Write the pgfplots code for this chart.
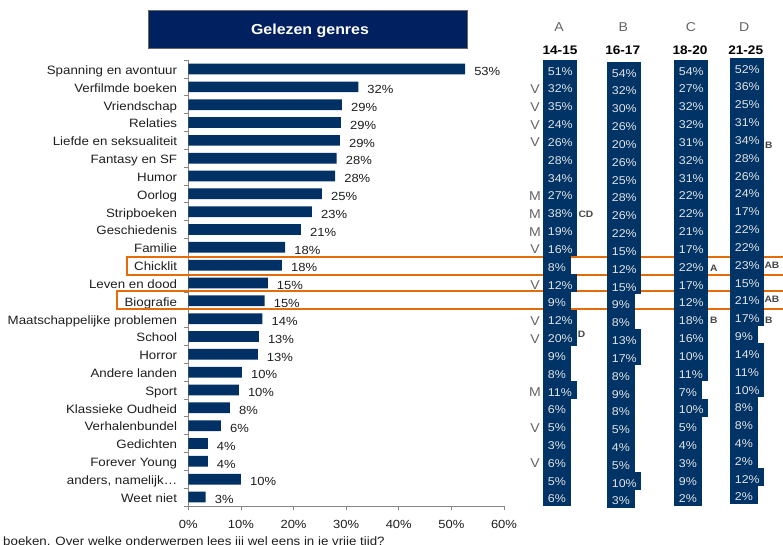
\documentclass[border=0pt]{standalone}
\usepackage{pgfplots}
\pgfplotsset{compat=1.18}
\usepackage{pgfplotstable}
\usepackage{fontspec}
\setmainfont{Liberation Sans}[FakeStretch=1.1]

\definecolor{barblue}{RGB}{0,48,100}
\definecolor{cellblue}{RGB}{0,51,102}
\definecolor{titleblue}{RGB}{0,32,96}
\definecolor{hl}{RGB}{228,108,10}
\definecolor{axgray}{RGB}{134,134,134}
\definecolor{txt}{RGB}{30,30,30}
\definecolor{celltxt}{RGB}{228,228,228}
\definecolor{lettergray}{RGB}{100,100,100}
\definecolor{supgray}{RGB}{70,70,70}

\pgfplotstableread{
y v l
0 52.6 53
1 32.3 32
2 29.2 29
3 29.0 29
4 28.8 29
5 28.2 28
6 27.9 28
7 25.4 25
8 23.5 23
9 21.4 21
10 18.4 18
11 17.8 18
12 15.1 15
13 14.5 15
14 14.1 14
15 13.4 13
16 13.2 13
17 10.2 10
18 9.6 10
19 7.9 8
20 6.2 6
21 3.7 4
22 3.7 4
23 10.0 10
24 3.3 3
}\bars

\pgfplotstableread{
y A B C D
0 51 54 54 52
1 32 32 27 36
2 35 30 32 25
3 24 26 32 31
4 26 20 31 34
5 28 26 32 28
6 34 25 31 26
7 27 28 22 24
8 38 26 22 17
9 19 22 21 22
10 16 15 17 22
11 8 12 22 23
12 12 15 17 15
13 9 9 12 21
14 12 8 18 17
15 20 13 16 9
16 9 17 10 14
17 8 8 11 11
18 11 9 7 10
19 6 8 10 8
20 5 5 5 8
21 3 4 4 4
22 6 5 3 2
23 5 10 9 12
24 6 3 2 2
}\tab

\pgfplotstableread{
y t
1 V
2 V
3 V
4 V
7 M
8 M
9 M
10 V
12 V
14 V
15 V
18 M
20 V
22 V
}\vm

\pgfplotstableread{
x y t
578.3 8.15 CD
577.7 14.89 D
710 11.15 A
710 14.08 B
765 4.28 B
764.3 11.0 AB
764.3 12.92 AB
765 14.1 B
}\sup

\tikzset{
  cell/.style={anchor=west, fill=cellblue, text=celltxt, inner xsep=4.7pt, inner ysep=0pt,
    minimum height=18.1pt, text height=12pt, text depth=0pt,
    font=\fontsize{11.3}{13}\selectfont},
  vmstyle/.style={anchor=center, inner sep=0pt, text=lettergray, text height=9.2pt, text depth=0pt,
    yshift=-2pt, font=\fontsize{12.8}{14}\selectfont},
  supstyle/.style={anchor=west, inner sep=0pt, text=supgray, text height=6.7pt, text depth=0pt,
    font=\bfseries\fontsize{9.3}{11}\selectfont},
}

\begin{document}
\begin{tikzpicture}
\useasboundingbox (0,0) rectangle (783pt,544pt);
\clip (0,0) rectangle (783pt,544pt);

% Title box
\fill[titleblue] (148.3pt,495.2pt) rectangle (467.5pt,533.8pt);
\draw[black!60, line width=0.6pt] (148.3pt,495.2pt) rectangle (467.5pt,533.8pt);
\node[anchor=base, text=white, inner sep=0pt, font=\bfseries\fontsize{14.5}{17}\selectfont] at (310pt,509pt) {Gelezen genres};

% Bar chart
\begin{axis}[
  at={(188.3pt,38.1pt)}, anchor=south west, scale only axis,
  width=315.7pt, height=445.8pt,
  xmin=0, xmax=60, ymin=-0.5, ymax=24.5, y dir=reverse,
  enlargelimits=false, clip=false,
  xbar, bar width=10.7pt, bar shift=0pt,
  axis x line*=bottom, axis y line*=left,
  axis line style={-, draw=axgray, line width=0.8pt},
  tick align=outside,
  major tick length=4pt, minor tick length=4pt,
  tick style={draw=axgray, line width=0.8pt},
  xtick={0,10,...,60},
  xticklabel={\pgfmathprintnumber{\tick}\%},
  /pgf/number format/assume math mode=true,
  xticklabel style={font=\fontsize{11.8}{14}\selectfont, text=txt, inner sep=0pt,
    text height=8.45pt, text depth=0pt, yshift=-10pt},
  ytick={0,1,2,3,4,5,6,7,8,9,10,11,12,13,14,15,16,17,18,19,20,21,22,23,24},
  yticklabels={Spanning en avontuur, Verfilmde boeken, Vriendschap, Relaties,
    Liefde en seksualiteit, Fantasy en SF, Humor, Oorlog, Stripboeken, Geschiedenis,
    Familie, Chicklit, Leven en dood, Biografie, Maatschappelijke problemen, School,
    Horror, Andere landen, Sport, Klassieke Oudheid, Verhalenbundel, Gedichten,
    Forever Young, {anders, namelijk…}, Weet niet},
  minor ytick={-0.5,0.5,...,24.5},
  major y tick style={draw=none},
  yticklabel style={font=\fontsize{12.1}{14}\selectfont, text=txt, inner sep=0pt,
    text height=8.66pt, text depth=0pt, xshift=-7pt, yshift=-1pt},
  point meta=explicit symbolic,
  nodes near coords={\pgfplotspointmeta\%},
  every node near coord/.append style={anchor=west, inner sep=0pt, xshift=9pt, yshift=-2.5pt,
    text=txt, font=\fontsize{11.8}{14}\selectfont, text height=8.45pt, text depth=0pt},
]
\addplot[fill=barblue, draw=none] table[x=v, y=y, meta=l] {\bars};
\end{axis}

% Table columns
\begin{axis}[
  at={(0pt,38.1pt)}, anchor=south west, scale only axis,
  width=783pt, height=445.8pt,
  xmin=0, xmax=783, ymin=-0.5, ymax=24.5, y dir=reverse,
  hide axis, clip=false,
  point meta=explicit symbolic,
]
\addplot[draw=none, mark=none, nodes near coords={\pgfplotspointmeta\%},
  every node near coord/.append style={cell}] table[x expr=543, y=y, meta=A] {\tab};
\addplot[draw=none, mark=none, nodes near coords={\pgfplotspointmeta\%},
  every node near coord/.append style={cell, yshift=-2pt}] table[x expr=607, y=y, meta=B] {\tab};
\addplot[draw=none, mark=none, nodes near coords={\pgfplotspointmeta\%},
  every node near coord/.append style={cell}] table[x expr=674, y=y, meta=C] {\tab};
\addplot[draw=none, mark=none, nodes near coords={\pgfplotspointmeta\%},
  every node near coord/.append style={cell, yshift=2pt}] table[x expr=730, y=y, meta=D] {\tab};
\addplot[draw=none, mark=none, nodes near coords={\pgfplotspointmeta},
  every node near coord/.append style={vmstyle}] table[x expr=535, y=y, meta=t] {\vm};
\addplot[draw=none, mark=none, nodes near coords={\pgfplotspointmeta},
  every node near coord/.append style={supstyle}] table[x=x, y=y, meta=t] {\sup};
\draw[hl, line width=1.8pt] (axis cs:127,10.52) rectangle (axis cs:800,11.53);
\draw[hl, line width=1.8pt] (axis cs:117,12.43) rectangle (axis cs:800,13.44);
\end{axis}

% Column headers
\foreach \x/\t in {559/A,623.3/B,691/C,744.3/D}
  \node[anchor=base, inner sep=0pt, text=lettergray, font=\fontsize{12.8}{14}\selectfont] at (\x pt,512.3pt) {\t};
\foreach \x/\t in {560/14-15,622.7/16-17,690/18-20,745.7/21-25}
  \node[anchor=base, inner sep=0pt, text=black, font=\bfseries\fontsize{12.4}{14}\selectfont] at (\x pt,489.7pt) {\t};

% Cut-off footnote (cut at the lower edge, as in the reference)
\node[anchor=base west, inner sep=0pt, text=txt, font=\fontsize{12.1}{14}\selectfont] at (3pt,-1.6pt) {boeken. Over welke onderwerpen lees jij wel eens in je vrije tijd?};
\end{tikzpicture}
\end{document}
